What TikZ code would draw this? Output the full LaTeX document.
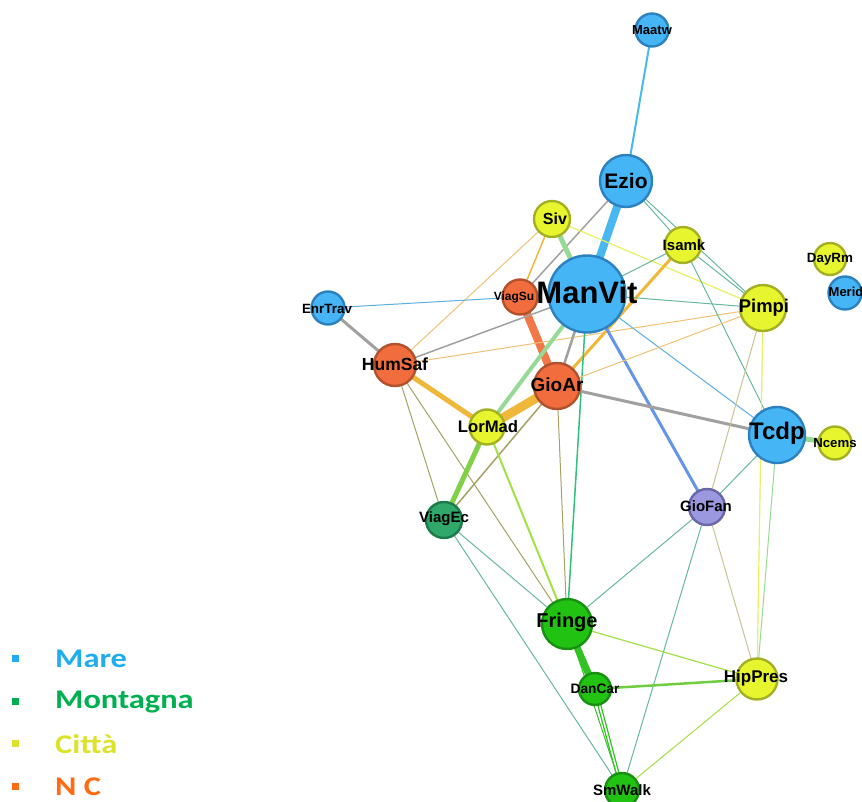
\documentclass[tikz,border=0pt]{standalone}
\usepackage{fontspec}
\setsansfont{Liberation Sans}
\newfontfamily\legendfont{Carlito}
\pgfdeclarelayer{edges}
\pgfsetlayers{edges,main}

% node colours
\definecolor{mareFill}{HTML}{45B5F5}
\definecolor{mareLine}{HTML}{2C82BE}
\definecolor{cittaFill}{HTML}{E6F52E}
\definecolor{cittaLine}{HTML}{A4B024}
\definecolor{ncFill}{HTML}{F26D3D}
\definecolor{ncLine}{HTML}{B2512C}
\definecolor{montFill}{HTML}{22C212}
\definecolor{montLine}{HTML}{189012}
\definecolor{ecFill}{HTML}{2FA86A}
\definecolor{ecLine}{HTML}{1D7A4A}
\definecolor{fanFill}{HTML}{9C98E0}
\definecolor{fanLine}{HTML}{6A67A8}
% edge colours
\definecolor{eBlue}{HTML}{4AB8F0}
\definecolor{eBlueThin}{HTML}{5AB0E0}
\definecolor{eCorn}{HTML}{6495E8}
\definecolor{eGray}{HTML}{A0A0A0}
\definecolor{eOrange}{HTML}{F2784A}
\definecolor{eAmber}{HTML}{F0B83A}
\definecolor{eLtOrange}{HTML}{F0C274}
\definecolor{eLtGreen}{HTML}{96DA96}
\definecolor{eGreen}{HTML}{80D048}
\definecolor{eTeal}{HTML}{66B89C}
\definecolor{eJade}{HTML}{30C080}
\definecolor{eOlive}{HTML}{A4A264}
\definecolor{eYelGreen}{HTML}{A2E044}
\definecolor{eDeep}{HTML}{32C224}
\definecolor{eYellow}{HTML}{E6F060}
\definecolor{eBeige}{HTML}{C8C294}
% legend colours
\definecolor{legMare}{HTML}{1EAEF0}
\definecolor{legMont}{HTML}{00B050}
\definecolor{legCitta}{HTML}{DDE22A}
\definecolor{legNC}{HTML}{FF6A12}

\newcommand\fsz[1]{\fontsize{#1}{#1}\selectfont}

\tikzset{
  vtx/.style={circle, inner sep=0pt, line width=2.4pt},
  mare/.style={vtx, fill=mareFill, draw=mareLine},
  citta/.style={vtx, fill=cittaFill, draw=cittaLine},
  nc/.style={vtx, fill=ncFill, draw=ncLine},
  mont/.style={vtx, fill=montFill, draw=montLine},
  ecnode/.style={vtx, fill=ecFill, draw=ecLine},
  fannode/.style={vtx, fill=fanFill, draw=fanLine},
  lab/.style={inner sep=0pt, font=\sffamily\bfseries, text=black},
  edge/.style={line width=#1, line cap=round},
  edge/.default=1pt,
  legsq/.style={inner sep=0pt, minimum size=7pt},
  legtxt/.style={inner sep=0pt, anchor=west, font=\legendfont\bfseries\fsz{27}},
}

\begin{document}
\begin{tikzpicture}[x=1pt, y=-1pt]
\useasboundingbox (0,0) rectangle (862,802);

% ---- vertices ----
\node[mare,  minimum size=33pt] (Maatw)   at (652,30)  {};
\node[mare,  minimum size=52pt] (Ezio)    at (626,181) {};
\node[citta, minimum size=36pt] (Siv)     at (552,219) {};
\node[citta, minimum size=36pt] (Isamk)   at (683,245) {};
\node[nc,    minimum size=35pt] (ViagSu)  at (520,297) {};
\node[mare,  minimum size=77pt] (ManVit)  at (587,294) {};
\node[mare,  minimum size=33pt] (EnrTrav) at (328,308) {};
\node[citta, minimum size=32pt] (DayRm)   at (830,259) {};
\node[mare,  minimum size=33pt] (Merid)   at (845,293) {};
\node[citta, minimum size=46pt] (Pimpi)   at (763,308) {};
\node[nc,    minimum size=42pt] (HumSaf)  at (395,365) {};
\node[nc,    minimum size=46pt] (GioAr)   at (557,386) {};
\node[citta, minimum size=35pt] (LorMad)  at (487,427) {};
\node[mare,  minimum size=56pt] (Tcdp)    at (777,435) {};
\node[citta, minimum size=33pt] (Ncems)   at (835,443) {};
\node[ecnode,  minimum size=36pt] (ViagEc) at (444,520) {};
\node[fannode, minimum size=36pt] (GioFan) at (707,507) {};
\node[mont,  minimum size=50pt] (Fringe)  at (567,624) {};
\node[mont,  minimum size=32pt] (DanCar)  at (595,689) {};
\node[citta, minimum size=41pt] (HipPres) at (757,679) {};
\node[mont,  minimum size=34pt] (SmWalk)  at (622,790) {};

% ---- connections ----
\begin{pgfonlayer}{edges}
\draw[edge=2pt, eBlue]      (Maatw.center) -- (Ezio.center);
\draw[edge=8pt, eBlue]      (Ezio.center) -- (ManVit.center);
\draw[edge, eTeal]          (Ezio.center) -- (Isamk.center);
\draw[edge, eTeal]          (Ezio.center) -- (Pimpi.center);
\draw[edge=1.5pt, eGray]    (Ezio.center) -- (ViagSu.center);
\draw[edge=5pt, eLtGreen]   (Siv.center) -- (ManVit.center);
\draw[edge=1.5pt, eAmber]   (Siv.center) -- (ViagSu.center);
\draw[edge, eLtOrange]      (Siv.center) -- (HumSaf.center);
\draw[edge=1.2pt, eYellow]  (Siv.center) -- (Pimpi.center);
\draw[edge, eBlueThin]      (EnrTrav.center) -- (ViagSu.center);
\draw[edge=3pt, eGray]      (EnrTrav.center) -- (HumSaf.center);
\draw[edge=8pt, eOrange]    (ViagSu.center) -- (GioAr.center);
\draw[edge=1.5pt, eGray]    (HumSaf.center) -- (ManVit.center);
\draw[edge, eLtOrange]      (HumSaf.center) -- (Pimpi.center);
\draw[edge=5pt, eAmber]     (HumSaf.center) -- (LorMad.center);
\draw[edge, eOlive]         (HumSaf.center) -- (ViagEc.center);
\draw[edge, eOlive]         (HumSaf.center) -- (Fringe.center);
\draw[edge, eTeal]          (Isamk.center) -- (ManVit.center);
\draw[edge=3pt, eAmber]     (Isamk.center) -- (GioAr.center);
\draw[edge, eTeal]          (Isamk.center) -- (Pimpi.center);
\draw[edge, eTeal]          (Isamk.center) -- (Tcdp.center);
\draw[edge, eTeal]          (ManVit.center) -- (Pimpi.center);
\draw[edge, eBlueThin]      (ManVit.center) -- (Tcdp.center);
\draw[edge=2.5pt, eGray]    (ManVit.center) -- (GioAr.center);
\draw[edge=3pt, eCorn]      (ManVit.center) -- (GioFan.center);
\draw[edge=1.5pt, eJade]    (ManVit.center) -- (Fringe.center);
\draw[edge=4pt, eLtGreen]   (ManVit.center) -- (LorMad.center);
\draw[edge=9pt, eAmber]     (GioAr.center) -- (LorMad.center);
\draw[edge=3pt, eGray]      (GioAr.center) -- (Tcdp.center);
\draw[edge, eLtOrange]      (GioAr.center) -- (Pimpi.center);
\draw[edge=1.5pt, eOlive]   (GioAr.center) -- (ViagEc.center);
\draw[edge, eOlive]         (GioAr.center) -- (Fringe.center);
\draw[edge=5pt, eGreen]     (LorMad.center) -- (ViagEc.center);
\draw[edge=2pt, eYelGreen]  (LorMad.center) -- (Fringe.center);
\draw[edge, eTeal]          (ViagEc.center) -- (Fringe.center);
\draw[edge, eTeal]          (ViagEc.center) -- (SmWalk.center);
\draw[edge, eBeige]         (Pimpi.center) -- (GioFan.center);
\draw[edge=1.2pt, eYellow]  (Pimpi.center) -- (HipPres.center);
\draw[edge=5pt, eLtGreen]   (Tcdp.center) -- (Ncems.center);
\draw[edge, eTeal]          (Tcdp.center) -- (GioFan.center);
\draw[edge, eLtGreen]       (Tcdp.center) -- (HipPres.center);
\draw[edge, eTeal]          (GioFan.center) -- (Fringe.center);
\draw[edge, eTeal]          (GioFan.center) -- (SmWalk.center);
\draw[edge, eBeige]         (GioFan.center) -- (HipPres.center);
\draw[edge=7pt, eDeep]      (Fringe.center) -- (DanCar.center);
\draw[edge=1.2pt, eYelGreen](Fringe.center) -- (HipPres.center);
\draw[edge, eDeep]          (Fringe.center) -- (SmWalk.center);
\draw[edge=2.5pt, eGreen!80!eDeep] (DanCar.center) -- (HipPres.center);
\draw[edge=1.2pt, eDeep]    ([xshift=-1.5pt]DanCar.center) -- ([xshift=-1.5pt]SmWalk.center);
\draw[edge=1.2pt, eDeep]    ([xshift=1.5pt]DanCar.center) -- ([xshift=1.5pt]SmWalk.center);
\draw[edge, eYelGreen]      (HipPres.center) -- (SmWalk.center);
\end{pgfonlayer}

% ---- labels ----
\node[lab, font=\sffamily\bfseries\fsz{13}] (tMaatw)   at (652,30)  {Maatw};
\node[lab, font=\sffamily\bfseries\fsz{21}] (tEzio)    at (626,181) {Ezio};
\node[lab, font=\sffamily\bfseries\fsz{16}] (tSiv)     at (555,219) {Siv};
\node[lab, font=\sffamily\bfseries\fsz{15}] (tIsamk)   at (684,245) {Isamk};
\node[lab, font=\sffamily\bfseries\fsz{12}] (tViagSu)  at (514,297) {ViagSu};
\node[lab, font=\sffamily\bfseries\fsz{31}] (tManVit)  at (587,292) {ManVit};
\node[lab, font=\sffamily\bfseries\fsz{13.4}] (tEnrTrav) at (327,309) {EnrTrav};
\node[lab, font=\sffamily\bfseries\fsz{13.4}] (tDayRm)   at (830,259) {DayRm};
\node[lab, font=\sffamily\bfseries\fsz{13}] (tMerid)   at (846,292) {Merid};
\node[lab, font=\sffamily\bfseries\fsz{18.4}] (tPimpi)   at (764,308) {Pimpi};
\node[lab, font=\sffamily\bfseries\fsz{17.5}] (tHumSaf)  at (395,364) {HumSaf};
\node[lab, font=\sffamily\bfseries\fsz{19}] (tGioAr)   at (557,385) {GioAr};
\node[lab, font=\sffamily\bfseries\fsz{16.7}] (tLorMad)  at (488,427) {LorMad};
\node[lab, font=\sffamily\bfseries\fsz{24}] (tTcdp)    at (777,433) {Tcdp};
\node[lab, font=\sffamily\bfseries\fsz{13.2}] (tNcems)   at (835,443) {Ncems};
\node[lab, font=\sffamily\bfseries\fsz{15}] (tViagEc)  at (444,519) {ViagEc};
\node[lab, font=\sffamily\bfseries\fsz{15}] (tGioFan)  at (706,506) {GioFan};
\node[lab, font=\sffamily\bfseries\fsz{20}] (tFringe)  at (567,622) {Fringe};
\node[lab, font=\sffamily\bfseries\fsz{13.7}] (tDanCar)  at (595,689) {DanCar};
\node[lab, font=\sffamily\bfseries\fsz{17}] (tHipPres) at (756,678) {HipPres};
\node[lab, font=\sffamily\bfseries\fsz{15}] (tSmWalk)  at (622,790) {SmWalk};

% ---- legend ----
\node[legsq, fill=legMare]  (sqMare)  at (15,658) {};
\node[legsq, fill=legMont]  (sqMont)  at (15,701) {};
\node[legsq, fill=legCitta] (sqCitta) at (15,743) {};
\node[legsq, fill=legNC]    (sqNC)    at (15,786) {};
\node[legtxt, text=legMare]  (lMare)  at (55,659) {\scalebox{1.2}[1]{Mare}};
\node[legtxt, text=legMont]  (lMont)  at (55,702) {\scalebox{1.2}[1]{Montagna}};
\node[legtxt, text=legCitta] (lCitta) at (55,744) {\scalebox{1.2}[1]{Città}};
\node[legtxt, text=legNC]    (lNC)    at (55,787) {\scalebox{1.2}[1]{N C}};
\end{tikzpicture}
\end{document}
